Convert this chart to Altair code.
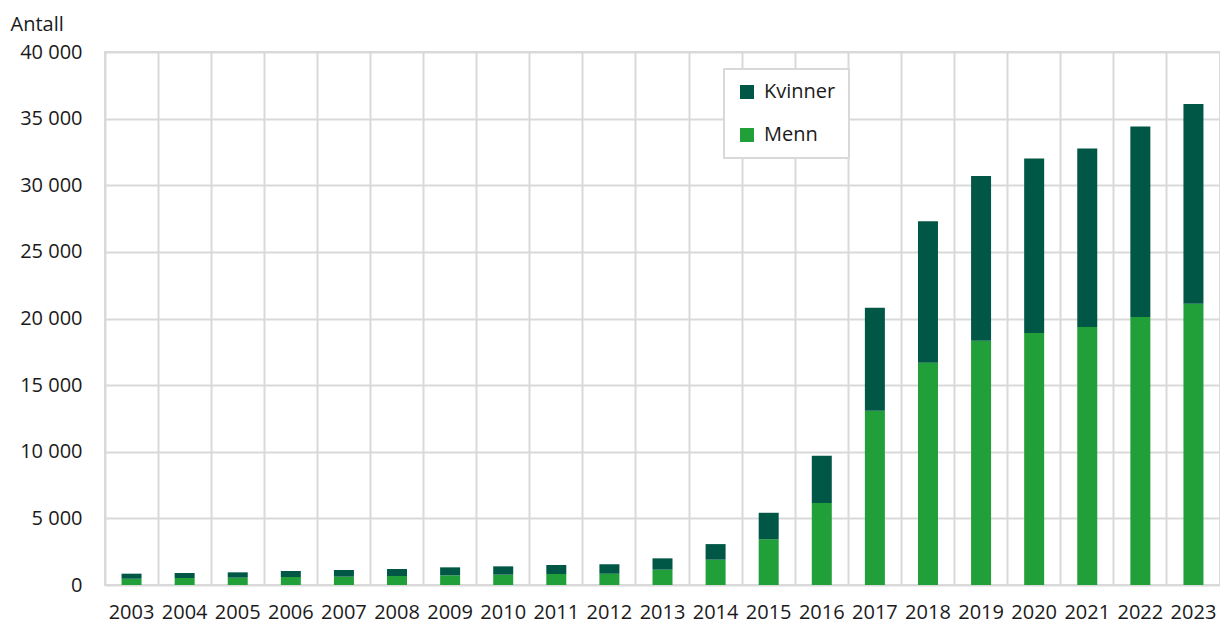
import altair as alt
import pandas as pd

years = [str(y) for y in range(2003, 2024)]
menn = [470, 525, 550, 600, 625, 675, 725, 775, 825, 850, 1150, 1900, 3430, 6150,
        13070, 16680, 18330, 18920, 19370, 20120, 21100]
kvinner = [380, 375, 400, 450, 500, 525, 600, 625, 675, 700, 850, 1170, 1990, 3550,
           7730, 10620, 12370, 13080, 13380, 14280, 15000]
series = ["Kvinner", "Menn"]
colors = ["#005746", "#21a039"]
y_ticks = list(range(0, 40001, 5000))

rows = []
for i, y in enumerate(years):
    rows.append({"År": y, "Kjønn": "Menn", "Antall": menn[i], "ord": 0})
    rows.append({"År": y, "Kjønn": "Kvinner", "Antall": kvinner[i], "ord": 1})
df = pd.DataFrame(rows)

FONT = "Open Sans"
FS = 20
GRID = "#d9d9d9"

chart = alt.Chart(df).mark_bar(size=20).encode(
    x=alt.X("År:N", sort=years, title=None,
            scale=alt.Scale(paddingInner=0, paddingOuter=0),
            axis=alt.Axis(labelAngle=0, grid=True, bandPosition=0, ticks=False,
                          tickSize=0, domain=False, labelPadding=33,
                          labelBaseline="alphabetic", gridColor=GRID, gridWidth=2,
                          labelFontSize=FS, labelFont=FONT, labelColor="#1a1a1a")),
    y=alt.Y("Antall:Q", stack="zero",
            scale=alt.Scale(domain=[0, 40000], nice=False),
            axis=alt.Axis(values=y_ticks, title="Antall", titleAngle=0, titleAlign="left",
                          titleBaseline="alphabetic", titleX=-95, titleY=-22,
                          titleFont=FONT, titleFontSize=FS, titleFontWeight="normal",
                          titleColor="#1a1a1a", ticks=False, tickSize=0, domain=False,
                          labelPadding=23, labelFontSize=FS, labelFont=FONT,
                          labelColor="#1a1a1a", gridColor=GRID, gridWidth=2,
                          labelExpr="replace(format(datum.value, ','), ',', ' ')")),
    color=alt.Color("Kjønn:N", scale=alt.Scale(domain=series, range=colors),
                    legend=alt.Legend(title=None, orient="none", legendX=619, legendY=17,
                                      symbolType="square", symbolSize=196,
                                      symbolStrokeWidth=0, labelFontSize=FS,
                                      labelFont=FONT, labelColor="#1a1a1a",
                                      rowPadding=23, padding=13, labelOffset=7,
                                      strokeColor=GRID, fillColor="white")),
    order=alt.Order("ord:Q"),
).properties(
    width=1115, height=533,
    autosize=alt.AutoSizeParams(type="none"),
    padding={"left": 97, "top": 44, "right": 0, "bottom": 38},
).configure_view(stroke=GRID, strokeWidth=2).configure_legend(strokeWidth=2)

chart.save("out.html", embed_options={"renderer": "svg", "actions": False})
